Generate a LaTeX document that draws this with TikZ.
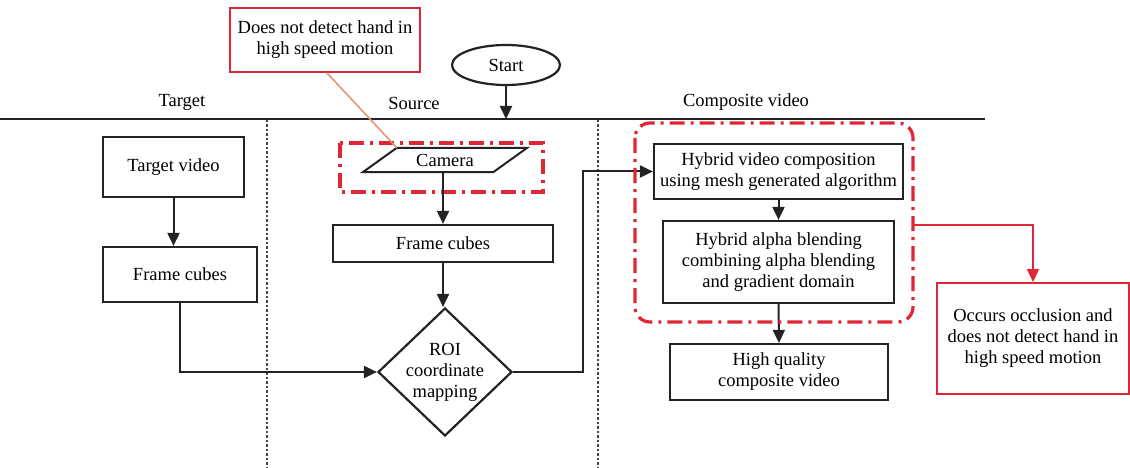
\documentclass[tikz,border=0pt]{standalone}
\usepackage{fontspec}
\setmainfont{Liberation Serif}
\usetikzlibrary{arrows.meta,shapes.geometric}
\definecolor{alert}{RGB}{222,38,52}
\definecolor{leader}{RGB}{238,140,112}
\definecolor{ink}{RGB}{35,35,35}
\begin{document}
\begin{tikzpicture}[x=1pt,y=-1pt,
  every node/.style={font=\fontsize{18.5}{21}\selectfont, inner sep=0pt, align=center},
  procbox/.style={draw=ink, line width=2.2pt, rectangle},
  notebox/.style={draw=alert, line width=2pt, rectangle},
  flow/.style={draw=ink, line width=2pt, -{Triangle[length=13pt,width=12pt]}},
  redflow/.style={draw=alert, line width=1.8pt, -{Triangle[length=13pt,width=12pt]}},
  groupline/.style={draw=alert, line width=3.2pt, dash pattern=on 15pt off 6pt on 3pt off 6pt},
  lanesep/.style={draw=ink!85, line width=2pt, dash pattern=on 2.5pt off 2pt}
]
\useasboundingbox (0,0) rectangle (1130,468);

% swimlane header line and lane separators
\coordinate (hl) at (0,119);
\coordinate (hr) at (985,119);
\draw[ink, line width=2pt] (hl) -- (hr);
\draw[lanesep] (267,120) -- (267,468);
\draw[lanesep] (598,120) -- (598,468);

\node (lt) at (182,102) {Target};
\node (ls) at (414,103) {Source};
\node (lc) at (746,102) {Composite video};

% start terminal
\node[ellipse, draw=ink, line width=2.2pt, minimum width=108, minimum height=40] (start) at (506,65) {Start};
\coordinate (entry) at (506,119);
\draw[flow] (start.south) -- (entry);

% target lane
\node[procbox, minimum width=141, minimum height=60] (tv) at (173.5,167) {Target video};
\node[procbox, minimum width=154, minimum height=55] (fct) at (180,274.5) {Frame cubes};
\draw[flow] (tv.south) -- (tv.south |- fct.north);

% source lane
\node[minimum width=130, minimum height=24] (cam) at (445,160) {Camera};
\draw[ink, line width=2pt] ([xshift=17pt]cam.north west) coordinate (camtl) -- ([xshift=17pt]cam.north east)
  -- ([xshift=-17pt]cam.south east) -- ([xshift=-17pt]cam.south west) -- cycle;
\draw[groupline] (340,143) rectangle (543,192);

\node[procbox, minimum width=220, minimum height=37] (fcs) at (443,243.5) {Frame cubes};
\draw[flow] (cam.south -| fcs.north) -- (fcs.north);

\node[diamond, draw=ink, line width=2.2pt, minimum width=134, minimum height=128] (roi) at (445,372) {};
\node (roitext) at (roi.center) {ROI\\coordinate\\mapping};
\draw[flow] (fcs.south) -- (fcs.south |- roi.north);
\draw[flow] (fct.south) |- (roi.west);

% composite lane
\node[procbox, minimum width=249, minimum height=55] (hvc) at (778.5,171.5) {Hybrid video composition\\using mesh generated algorithm};
\node[procbox, minimum width=231, minimum height=82] (hab) at (778.5,262) {Hybrid alpha blending\\combining alpha blending\\and gradient domain};
\node[procbox, minimum width=218, minimum height=56] (hq) at (779,372) {High quality\\composite video};
\coordinate (riser) at (583,372);
\draw[flow] (roi.east) -- (riser) |- (hvc.west);
\draw[flow] (hvc.south -| hab.north) -- (hab.north);
\draw[flow] (hab.south) -- (hq.north);

\draw[groupline, rounded corners=15pt] (635,123) rectangle (913,322);

% annotations
\node[notebox, minimum width=190, minimum height=64] (note1) at (325,40) {Does not detect hand in\\high speed motion};
\draw[leader, line width=1.5pt] ([xshift=2pt]note1.south) -- (camtl);

\node[notebox, minimum width=192, minimum height=111] (note2) at (1033,338.5) {Occurs occlusion and\\does not detect hand in\\high speed motion};
\coordinate (grpR) at (913,225);
\draw[redflow] (grpR) -| (note2.north);
\end{tikzpicture}
\end{document}
